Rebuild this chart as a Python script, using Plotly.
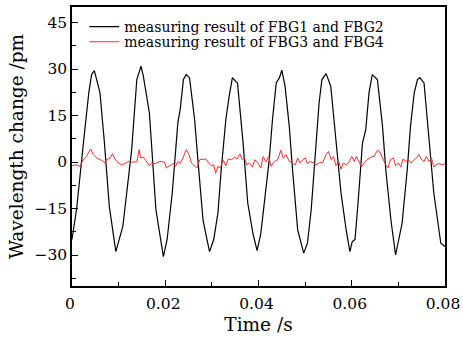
import plotly.graph_objects as go

# Black series: FBG1 and FBG2 (time in s, wavelength change in pm)
t_fbg12 = [0, 0.001, 0.0026, 0.0036, 0.0042, 0.0048, 0.006, 0.0069, 0.008, 0.0094,
           0.0109, 0.0128, 0.0139, 0.0148, 0.0153, 0.0166, 0.018, 0.0187, 0.0196,
           0.0204, 0.0215, 0.0227, 0.0232, 0.0239, 0.0245, 0.0252, 0.0263, 0.027, 0.0281,
           0.0288, 0.0295, 0.0304, 0.0313, 0.032, 0.033, 0.0337, 0.0344, 0.0351, 0.0355,
           0.0367, 0.0377, 0.0388, 0.0397,
           0.0405, 0.0412, 0.0423, 0.043, 0.0438, 0.0445, 0.045, 0.0457, 0.0466, 0.0473,
           0.0484, 0.0497, 0.0505, 0.0513, 0.0523, 0.053, 0.0536, 0.0545, 0.0555, 0.0566,
           0.0577, 0.0588, 0.0596,
           0.0601, 0.0607, 0.0614, 0.0623, 0.063, 0.0637, 0.0644, 0.0655, 0.0666, 0.0673,
           0.0684, 0.0694, 0.0708, 0.0719, 0.0726, 0.0734, 0.0741, 0.0746, 0.0755, 0.0766,
           0.0776, 0.0786, 0.0791, 0.08]
v_fbg12 = [-25, -15, 8.3, 22.3, 28.2, 29.5, 22.3, 7.2, -14.3, -28.9,
           -20.8, 4, 26.6, 30.9, 27.7, 15.8, -15.4, -22, -30.5,
           -25, -10, 12.6, 16.9, 26.6, 28.2, 27.2, 13.7, 0.7, -18.7,
           -24, -28.9, -25, -16.4, -2.5, 13.7, 21.2, 27.2, 26, 25.5,
           6, -13.3, -23, -28.6,
           -23, -13.3, 0.7, 13.7, 25.5, 27.2, 29.6, 24.4, 11.5, -2.5,
           -21.9, -29.4, -26.2, -15.4, 6.1, 19.1, 26.6, 28.5, 24.4, 7.2,
           -10, -21.9, -28.9,
           -25.7, -25, -12.2, 6.1, 10.4, 22.3, 28.2, 26.6, 11.5, -2.5,
           -18.7, -30, -19.7, -2.5, 11.5, 22.3, 26.6, 27.2, 25.5, 6.1,
           -10, -20.8, -26.2, -27.3]

# Red series: FBG3 and FBG4
t_fbg34 = [0, 0.001, 0.0017, 0.0024, 0.0031, 0.004, 0.0046, 0.0053, 0.0064, 0.0071,
           0.0074, 0.0082, 0.0087, 0.0092, 0.0099, 0.0106, 0.0114, 0.0121, 0.0128, 0.0139,
           0.0144, 0.0147, 0.0153, 0.016, 0.0166, 0.0171, 0.0178, 0.0189, 0.0199,
           0.0202, 0.021, 0.0217, 0.0222, 0.0227, 0.0232, 0.0238, 0.0245, 0.0251, 0.0256,
           0.0263, 0.0268, 0.0274, 0.0281, 0.0287, 0.0294, 0.0299, 0.0304, 0.0308, 0.0313,
           0.0318, 0.0324, 0.033, 0.0335, 0.0342, 0.0349, 0.0354, 0.036, 0.0365, 0.037,
           0.0375, 0.0381, 0.0387, 0.0392, 0.0399,
           0.0405, 0.041, 0.0416, 0.0422, 0.0427, 0.0434, 0.0441, 0.0448, 0.0453, 0.0459,
           0.0466, 0.0473, 0.0479, 0.0484, 0.0489, 0.0495, 0.05, 0.0505, 0.051, 0.0518,
           0.0523, 0.053, 0.0538, 0.0545, 0.055, 0.0556, 0.0561, 0.0566, 0.0572, 0.0577,
           0.0582, 0.0588, 0.0595,
           0.06, 0.0605, 0.061, 0.0616, 0.0621, 0.0626, 0.0633, 0.0641, 0.0648, 0.0655,
           0.066, 0.0666, 0.0673, 0.0678, 0.0683, 0.0689, 0.0694, 0.07, 0.0705, 0.071,
           0.0716, 0.0721, 0.0727, 0.0734, 0.0739, 0.0744, 0.075, 0.0755, 0.076, 0.0766,
           0.0771, 0.0776, 0.0781, 0.0787, 0.0794, 0.08]
v_fbg34 = [-1.2, -0.9, -1.4, 0.75, 1.8, 4.2, 2.4, 1.3, 0.5, -0.3,
           0.75, 1.3, 2.7, 1.0, -0.3, -0.9, -0.5, 0.2, 0, 0,
           4.0, 1.3, 1.6, 0.2, -1.2, -0.3, -0.5, 0.2, -0.1,
           -1.9, -1.2, -0.5, -1.4, 0.2, -0.5, 1.3, 4.0, 2.4, -0.3,
           -1.2, -1.9, 0.75, 1.0, 1.0, -0.5, -1.2, -0.9, -3.6, -1.4,
           -1.9, 0.75, -1.2, 1.0, 0.75, 1.6, 1.0, 2.6, 0.75, 1.3,
           -0.9, -0.3, -1.6, 0.75, -0.3,
           -1.9, 1.8, 0, 1.8, -1.4, 0.2, 0.75, 3.8, 1.3, 2.4,
           0.2, -0.5, -0.9, 1.3, -0.3, 0.75, 1.3, -0.5, 0.2, -0.3,
           -0.9, -0.3, -0.1, 2.4, 3.4, 0.75, 1.8, -1.2, 0.2, -2.3,
           -0.3, -0.9, 0.2,
           1.8, 0.2, 1.8, -0.3, -1.6, -0.3, 0.75, 1.6, 1.8, 3.8,
           3.4, 1.3, -0.9, -1.9, 0.75, 1.3, -1.2, -0.3, -1.6, 1.0,
           0.2, 0.75, -0.3, 0.75, 1.3, 2.4, 0.75, 0.2, 1.8, 0.2,
           1.3, -1.6, -0.9, -0.5, -0.9, -0.5]

x_tick_vals = [0, 0.02, 0.04, 0.06, 0.08]
x_tick_text = ["0", "0.02", "0.04", "0.06", "0.08"]
y_tick_vals = [-30, -15, 0, 15, 30, 45]
y_tick_text = ["\u221230", "\u221215", "0", "15", "30", "45"]

FONT = "DejaVu Serif"

fig = go.Figure()
fig.add_trace(go.Scatter(x=t_fbg12, y=v_fbg12, mode="lines",
                         line=dict(color="black", width=1.2),
                         name="measuring result of FBG1 and FBG2", legend="legend"))
fig.add_trace(go.Scatter(x=t_fbg34, y=v_fbg34, mode="lines",
                         line=dict(color="#ff2a2a", width=1),
                         name="measuring result of FBG3 and FBG4", legend="legend2"))

axis_common = dict(showgrid=False, zeroline=False, showline=True, linecolor="black",
                   linewidth=1.5, mirror=True, ticks="inside", ticklen=6, tickwidth=1.2,
                   tickcolor="black", automargin=False,
                   tickfont=dict(family=FONT, size=15.5, color="black"))

fig.update_xaxes(range=[0, 0.08], tickvals=x_tick_vals, ticktext=x_tick_text,
                 ticklabelstandoff=3, ticklabelshift=-2, ticklabeloverflow="allow",
                 title=dict(text="Time /s", font=dict(family=FONT, size=18.5, color="black"),
                            standoff=6),
                 minor=dict(ticks="inside", dtick=0.01, tick0=0, ticklen=4,
                            tickcolor="black", tickwidth=1.2),
                 **axis_common)
fig.update_yaxes(range=[-40, 50], tickvals=y_tick_vals, ticktext=y_tick_text,
                 title=dict(text="Wavelength change /pm",
                            font=dict(family=FONT, size=18.5, color="black"), standoff=6),
                 minor=dict(ticks="inside", dtick=7.5, tick0=0, ticklen=4,
                            tickcolor="black", tickwidth=1.2),
                 **axis_common)

legend_common = dict(xanchor="left", yanchor="middle", bgcolor="rgba(0,0,0,0)",
                     borderwidth=0, font=dict(family=FONT, size=14, color="black"),
                     itemwidth=30)

fig.update_layout(
    width=463, height=339,
    margin=dict(l=72, r=18, t=7, b=53),
    paper_bgcolor="white", plot_bgcolor="white",
    showlegend=True,
    legend=dict(x=0.033, y=0.928, **legend_common),
    legend2=dict(x=0.033, y=0.874, **legend_common),
)

fig.write_html(
    "out.html",
    config={"displayModeBar": False},
    post_script="document.body.style.margin='0';"
                "document.documentElement.style.overflow='hidden';",
)
